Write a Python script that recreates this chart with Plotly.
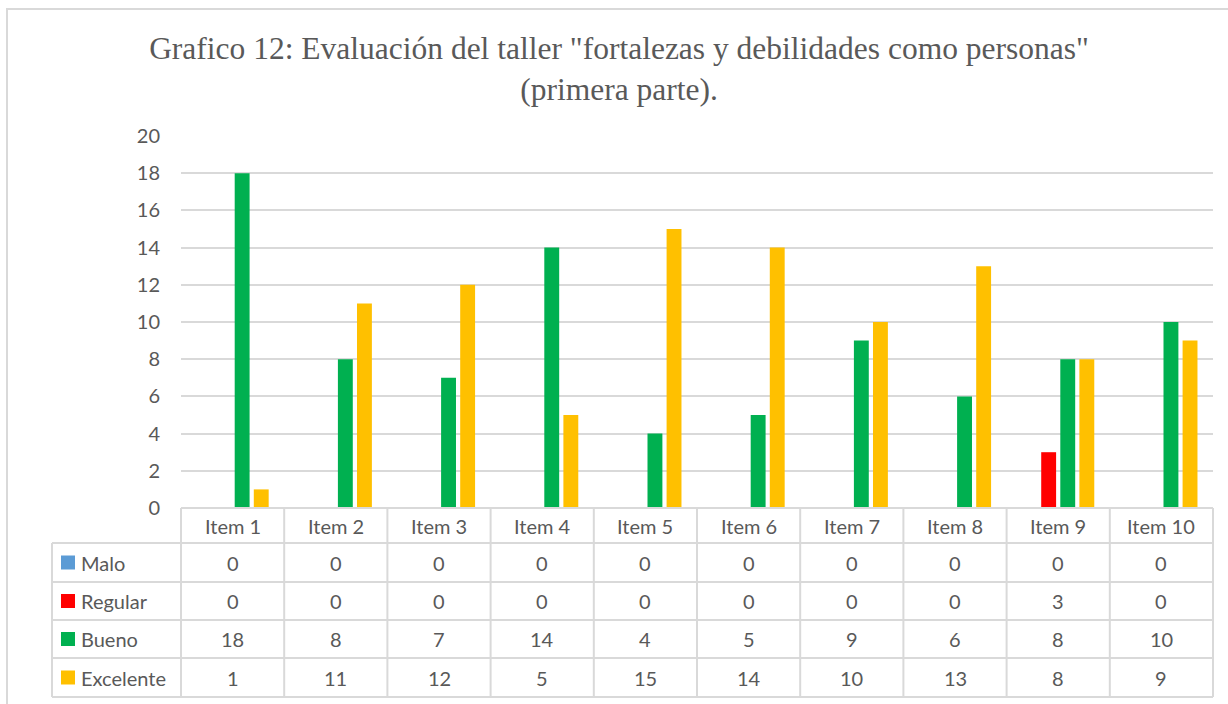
import plotly.graph_objects as go

items = ["Item 1", "Item 2", "Item 3", "Item 4", "Item 5",
         "Item 6", "Item 7", "Item 8", "Item 9", "Item 10"]
series_names = ["Malo", "Regular", "Bueno", "Excelente"]
malo = [0, 0, 0, 0, 0, 0, 0, 0, 0, 0]
regular = [0, 0, 0, 0, 0, 0, 0, 0, 3, 0]
bueno = [18, 8, 7, 14, 4, 5, 9, 6, 8, 10]
excelente = [1, 11, 12, 5, 15, 14, 10, 13, 8, 9]
colors = ["#5B9BD5", "#FF0000", "#00B050", "#FFC000"]
yticks = [0, 2, 4, 6, 8, 10, 12, 14, 16, 18, 20]

values = [malo, regular, bueno, excelente]

W, H = 1228, 704
L, R, T, B = 181, 15, 136, 196
pw = W - L - R
ph = H - T - B

def px_x(p):
    return (p - L) / pw

def px_y(p):
    return (H - B - p) / ph

grey = "#595959"
line_c = "#D9D9D9"
font_fam = "Lato, Carlito, Calibri, sans-serif"
fsize = 20

fig = go.Figure()
for name, vals, col in zip(series_names, values, colors):
    fig.add_trace(go.Bar(x=items, y=vals, name=name, marker_color=col,
                         marker_line_width=0))

# table geometry (pixels)
row_edges = [508, 543, 582, 620, 658, 697]
left_px = 52

shapes = []
shapes.append(dict(type="line", xref="paper", yref="paper", x0=0, x1=1,
                   y0=px_y(row_edges[0]), y1=px_y(row_edges[0]),
                   line=dict(color=line_c, width=2)))
for yy in row_edges[1:]:
    shapes.append(dict(type="line", xref="paper", yref="paper",
                       x0=px_x(left_px), x1=1, y0=px_y(yy), y1=px_y(yy),
                       line=dict(color=line_c, width=2)))
for i in range(len(items) + 1):
    xp = i / len(items)
    shapes.append(dict(type="line", xref="paper", yref="paper", x0=xp, x1=xp,
                       y0=px_y(row_edges[0]), y1=px_y(row_edges[-1]),
                       line=dict(color=line_c, width=2)))
shapes.append(dict(type="line", xref="paper", yref="paper",
                   x0=px_x(left_px), x1=px_x(left_px),
                   y0=px_y(row_edges[1]), y1=px_y(row_edges[-1]),
                   line=dict(color=line_c, width=2)))
# chart border
shapes.append(dict(type="rect", xref="paper", yref="paper",
                   x0=px_x(7), x1=px_x(1240), y0=px_y(9), y1=px_y(715),
                   line=dict(color=line_c, width=2)))

annotations = []
for i, it in enumerate(items):
    xc = (i + 0.5) / len(items)
    annotations.append(dict(x=xc, y=px_y((row_edges[0] + row_edges[1]) / 2),
                            xref="paper", yref="paper", text=it, showarrow=False,
                            xanchor="center", yanchor="middle",
                            font=dict(family=font_fam, size=fsize, color=grey)))
    for r, vals in enumerate(values):
        yc = (row_edges[r + 1] + row_edges[r + 2]) / 2
        annotations.append(dict(x=xc, y=px_y(yc), xref="paper", yref="paper",
                                text=str(vals[i]), showarrow=False,
                                xanchor="center", yanchor="middle",
                                font=dict(family=font_fam, size=fsize, color=grey)))

for r, (name, col) in enumerate(zip(series_names, colors)):
    yc = (row_edges[r + 1] + row_edges[r + 2]) / 2
    shapes.append(dict(type="rect", xref="paper", yref="paper",
                       x0=px_x(61), x1=px_x(75), y0=px_y(yc - 7), y1=px_y(yc + 7),
                       fillcolor=col, line=dict(width=0)))
    annotations.append(dict(x=px_x(79), y=px_y(yc), xref="paper", yref="paper",
                            text=name, showarrow=False, xanchor="left", yanchor="middle",
                            font=dict(family=font_fam, size=fsize, color=grey)))

fig.update_layout(
    width=W, height=H,
    margin=dict(l=L, r=R, t=T, b=B),
    paper_bgcolor="white", plot_bgcolor="white",
    barmode="group", bargap=0.26, bargroupgap=0.22,
    showlegend=False,
    title=dict(text='Grafico 12: Evaluación del taller "fortalezas y debilidades como personas"<br>(primera parte).',
               x=619 / W, xanchor="center", y=1 - 59 / H, yanchor="middle",
               font=dict(family="Liberation Serif, Times New Roman, serif", size=31.5, color=grey)),
    shapes=shapes, annotations=annotations,
)
fig.update_xaxes(showticklabels=False, showgrid=False, showline=False, ticks="")
fig.update_yaxes(range=[0, 20], tickvals=yticks, showgrid=True, gridcolor=line_c,
                 gridwidth=2, zeroline=False, showline=False, ticks="",
                 tickfont=dict(family=font_fam, size=fsize, color=grey), ticklabelstandoff=20)

fig.write_html("out.html", config={"displayModeBar": False},
               post_script="document.body.style.margin='0';")
